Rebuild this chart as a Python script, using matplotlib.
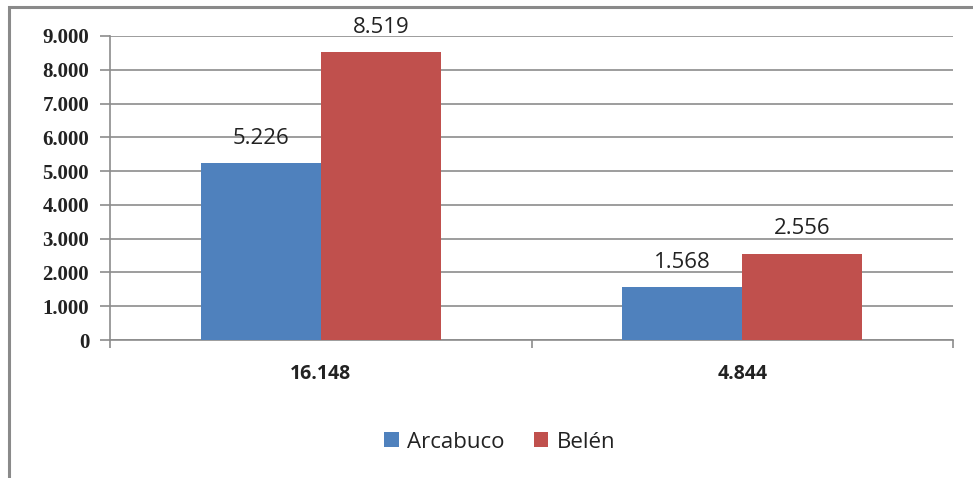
import matplotlib
matplotlib.use("Agg")
import matplotlib.pyplot as plt
import numpy as np
from matplotlib.patches import Rectangle
from matplotlib.ticker import FuncFormatter

categories = ["16.148", "4.844"]
series_names = ["Arcabuco", "Belén"]
arcabuco = [5226, 1568]
belen = [8519, 2556]
yticks = [0, 1000, 2000, 3000, 4000, 5000, 6000, 7000, 8000, 9000]

colors = ["#4F81BD", "#C0504D"]
grid_color = "#8C8C8C"

def fmt_es(v):
    s = f"{int(round(v)):,}".replace(",", ".")
    return s

W, H = 973, 478
fig = plt.figure(figsize=(W / 100, H / 100), dpi=100)
ax = fig.add_axes([110 / W, 1 - 340 / H, (953 - 110) / W, (340 - 36) / H])

# chart border
fig.patches.append(Rectangle((9 / W, -0.2), 1.2, 1 - 7 / H + 0.2, transform=fig.transFigure,
                             fill=False, edgecolor="#8A8A8A", linewidth=2.2, zorder=0))

x = np.arange(len(categories))
bw = 120 / 421.5
series = [arcabuco, belen]
for i, (vals, name, c) in enumerate(zip(series, series_names, colors)):
    pos = x + (i - 0.5) * bw
    bars = ax.bar(pos, vals, width=bw, color=c, label=name, zorder=3)
    for b, v in zip(bars, vals):
        ax.text(b.get_x() + b.get_width() / 2, v + 420, fmt_es(v), ha="center", va="bottom",
                fontsize=16, family="Open Sans", color="#222222", zorder=4)

ax.set_xlim(-0.5, len(categories) - 0.5)
ax.set_ylim(0, 9000)
ax.set_yticks(yticks)
ax.yaxis.set_major_formatter(FuncFormatter(lambda v, p: fmt_es(v)))
ax.grid(axis="y", color=grid_color, linewidth=1.2, zorder=0)
ax.set_axisbelow(True)

for s in ["top", "right"]:
    ax.spines[s].set_visible(False)
ax.spines["left"].set_color(grid_color)
ax.spines["bottom"].set_color(grid_color)
ax.spines["left"].set_linewidth(1.2)
ax.spines["bottom"].set_linewidth(1.2)

ax.tick_params(axis="y", direction="out", length=7, color=grid_color, width=1.2, pad=8)
for lab in ax.get_yticklabels():
    lab.set_family("Liberation Serif")
    lab.set_fontweight("bold")
    lab.set_fontsize(15)
    lab.set_color("#222222")

# category boundary ticks
ax.set_xticks([-0.5, 0.5, 1.5], minor=True)
ax.tick_params(axis="x", which="minor", direction="out", length=6, color=grid_color, width=1.2)
ax.set_xticks(x)
ax.set_xticklabels(categories)
ax.tick_params(axis="x", which="major", length=0, pad=17)
for lab in ax.get_xticklabels():
    lab.set_family("Open Sans")
    lab.set_fontweight("bold")
    lab.set_fontsize(14)
    lab.set_color("#222222")

leg = fig.legend(loc="center", bbox_to_anchor=(500 / W, 1 - 442 / H), ncol=2, frameon=False,
                 prop={"family": "Open Sans", "size": 16}, handlelength=0.65, handleheight=0.65,
                 handletextpad=0.4, columnspacing=1.3)
for t in leg.get_texts():
    t.set_color("#222222")

fig.savefig("out.png", dpi=100)
